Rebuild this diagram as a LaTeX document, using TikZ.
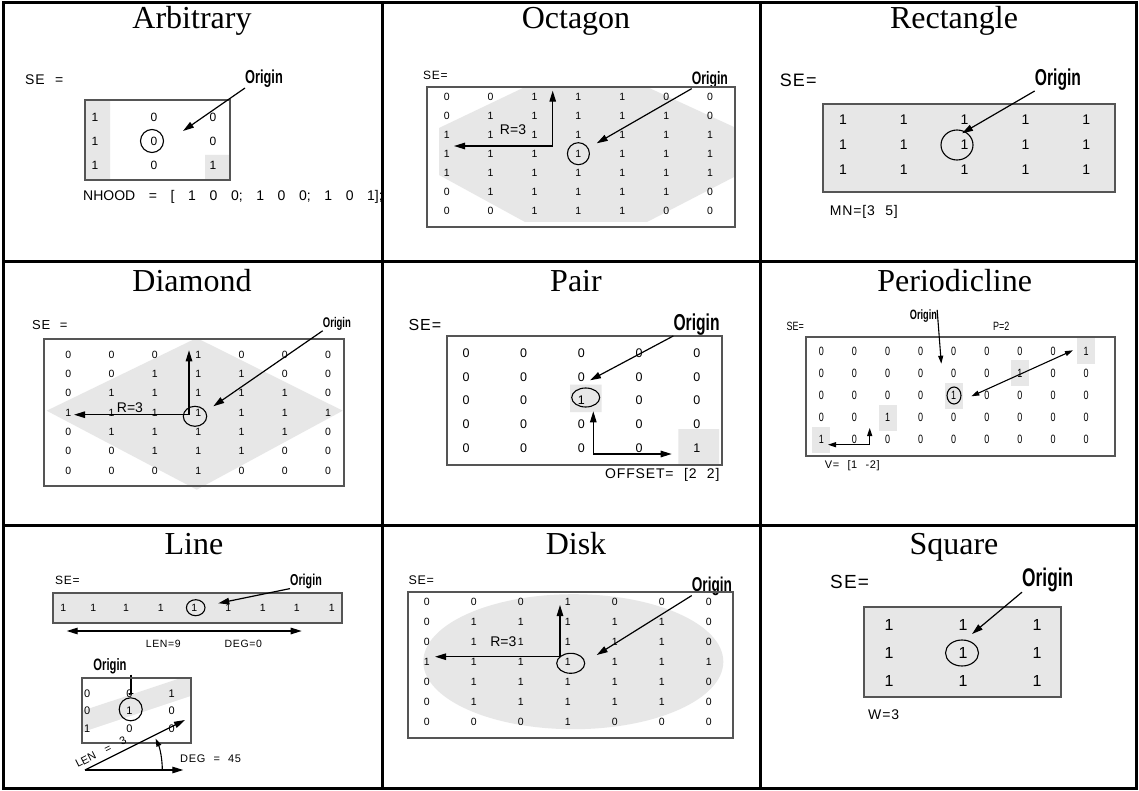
\documentclass[tikz,border=0pt]{standalone}
\usepackage{fontspec}
\setmainfont{Liberation Serif}
\newfontfamily\hsans{Liberation Sans}
\newfontfamily\origfont[FakeStretch=0.68]{Liberation Sans}
\newfontfamily\condfont[FakeStretch=0.75]{Liberation Sans}
\newfontfamily\codefont[LetterSpace=6,WordSpace=2.2]{Liberation Sans}
\newfontfamily\nhfont[WordSpace=3.5]{Liberation Sans}
\usetikzlibrary{arrows.meta}
\definecolor{lgray}{RGB}{231,231,231}
\definecolor{boxline}{RGB}{85,85,85}
\newcommand{\fsz}[1]{\fontsize{#1}{#1}\selectfont}
\tikzset{
  gridline/.style={line width=3pt},
  ttl/.style={anchor=base, inner sep=0pt, font=\fsz{32}},
  sebox/.style={draw=boxline, line width=2pt},
  dig/.style={inner sep=0pt, font=\hsans\fsz{#1}},
  cdig/.style={inner sep=0pt, font=\condfont\fsz{#1}},
  lbl/.style={inner sep=0pt, anchor=west, font=\hsans\fsz{#1}},
  clbl/.style={inner sep=0pt, anchor=west, font=\codefont\fsz{#1}},
  cnlbl/.style={inner sep=0pt, anchor=west, font=\condfont\fsz{#1}},
  orig/.style={inner sep=0pt, anchor=west, font=\origfont\bfseries\fsz{#1}},
  arr/.style={line width=1.2pt, -{Triangle[length=11pt,width=6.5pt]}},
  darr/.style={line width=1.2pt, {Triangle[length=11pt,width=6.5pt]}-{Triangle[length=11pt,width=6.5pt]}},
  sarr/.style={line width=1.1pt, -{Triangle[length=8pt,width=5pt]}},
  sdarr/.style={line width=1.1pt, {Triangle[length=8pt,width=5pt]}-{Triangle[length=8pt,width=5pt]}},
  ring/.style={draw, line width=1.1pt},
}
\begin{document}
\begin{tikzpicture}[x=1pt,y=-1pt]
\fill[white] (0,0) rectangle (1139,791);
\useasboundingbox (0,0) rectangle (1139,791);
% ---------------- grid
\draw[gridline] (3,3) rectangle (1136,788);
\draw[gridline] (382,3) -- (382,788) (760,3) -- (760,788) (3,262) -- (1136,262) (3,525) -- (1136,525);

% ---------------- Arbitrary
\begin{scope}
\node[ttl] (t1) at (192,29) {Arbitrary};
\node[clbl=14] (se1) at (25,80) {SE =};
\node[orig=18.8] (o1) at (245,79) {Origin};
\fill[lgray] (85,100) rectangle (110,180) (205,155) rectangle (230,180);
\draw[sebox] (85,100) rectangle (230,180);
\foreach \rw [count=\i from 0] in {{1,0,0},{1,0,0},{1,0,1}}
  \foreach \v [count=\j from 0] in \rw
    \node[dig=12] (a-\i-\j) at ({95+59*\j},{117+24*\i}) {\v};
\draw[ring] (152,141) circle (11.5);
\coordinate (o1t) at (183,131);
\draw[arr] (o1.south west) -- (o1t);
\node[anchor=west, inner sep=0pt, font=\nhfont\fsz{14}] (nh) at (83,197) {NHOOD = [ 1 0 0; 1 0 0; 1 0 1];};
\end{scope}

% ---------------- Octagon
\begin{scope}[shift={(380,0)}]
\node[ttl] (t2) at (196,29) {Octagon};
\node[clbl=12] (se2) at (43,75) {SE=};
\node[orig=18] (o2) at (311.7,80) {Origin};
\fill[lgray] (145,87) -- (267,87) -- (354,127) -- (354,177) -- (267,222) -- (145,222) -- (59,175) -- (59,128) -- cycle;
\draw[sebox] (46.7,86.7) rectangle (355,227.3);
\foreach \rw [count=\i from 0] in {{0,0,1,1,1,0,0},{0,1,1,1,1,1,0},{1,1,1,1,1,1,1},{1,1,1,1,1,1,1},{1,1,1,1,1,1,1},{0,1,1,1,1,1,0},{0,0,1,1,1,0,0}}
  \foreach \v [count=\j from 0] in \rw
    \node[dig=10.5] (b-\i-\j) at ({66.7+43.9*\j},{96.7+19*\i}) {\v};
\draw[ring] (198.4,153.7) circle (11);
\node[dig=14] (r2) at (133,130) {R=3};
\coordinate (b-c) at (172.7,146);
\coordinate (b-u) at (172.7,90.7);
\coordinate (b-l) at (74,146);
\draw[darr] (b-u) -- (b-c) -- (b-l);
\coordinate (o2t) at (216.7,143.3);
\draw[arr] (o2.south west) -- (o2t);
\end{scope}

% ---------------- Rectangle
\begin{scope}[shift={(758,0)}]
\node[ttl] (t3) at (196,29) {Rectangle};
\node[clbl=18] (se3) at (21.7,80) {SE=};
\node[orig=23] (o3) at (276.7,80) {Origin};
\draw[sebox, fill=lgray] (65,104) rectangle (356.7,191.7);
\foreach \rw [count=\i from 0] in {{1,1,1,1,1},{1,1,1,1,1},{1,1,1,1,1}}
  \foreach \v [count=\j from 0] in \rw
    \node[dig=14] (c-\i-\j) at ({85+60.8*\j},{120+25*\i}) {\v};
\draw[ring] (199,145) ellipse [x radius=16, y radius=15];
\coordinate (o3t) at (204,133.3);
\draw[arr] (o3.south west) -- (o3t);
\node[clbl=14] (mn) at (71.7,212) {MN=[3 5]};
\end{scope}

% ---------------- Diamond
\begin{scope}[shift={(0,263)}]
\node[ttl] (t4) at (192,28) {Diamond};
\node[clbl=13] (se4) at (32,62) {SE =};
\node[orig=14] (o4) at (322.7,61) {Origin};
\fill[lgray] (196.7,75) -- (342.7,147.7) -- (196.7,226.7) -- (46.7,147.7) -- cycle;
\draw[sebox] (44.3,76) rectangle (344.3,222.7);
\foreach \rw [count=\i from 0] in {{0,0,0,1,0,0,0},{0,0,1,1,1,0,0},{0,1,1,1,1,1,0},{1,1,1,1,1,1,1},{0,1,1,1,1,1,0},{0,0,1,1,1,0,0},{0,0,0,1,0,0,0}}
  \foreach \v [count=\j from 0] in \rw
    \node[dig=10.5] (d-\i-\j) at ({68.3+43.3*\j},{91.7+19.3*\i}) {\v};
\draw[ring] (195,153.3) ellipse [x radius=11.7, y radius=10];
\node[dig=14] (r4) at (130,145) {R=3};
\coordinate (d-c) at (189,151.7);
\coordinate (d-u) at (189,87.3);
\coordinate (d-l) at (74,151.7);
\draw[darr] (d-u) -- (d-c) -- (d-l);
\coordinate (o4t) at (213.3,143.3);
\draw[arr] (o4.south west) -- (o4t);
\end{scope}

% ---------------- Pair
\begin{scope}[shift={(380,263)}]
\node[ttl] (t5) at (196,28) {Pair};
\node[clbl=16] (se5) at (28.3,62) {SE=};
\node[orig=23] (o5) at (293.3,62) {Origin};
\fill[lgray] (190,121.7) rectangle (221.7,149) (298.3,166) rectangle (339,201.7);
\draw[sebox] (66.7,73.3) rectangle (341.7,201.7);
\foreach \rw [count=\i from 0] in {{0,0,0,0,0},{0,0,0,0,0},{0,0,1,0,0},{0,0,0,0,0},{0,0,0,0,1}}
  \foreach \v [count=\j from 0] in \rw
    \node[dig=12.5] (e-\i-\j) at ({86+57.7*\j},{90+23.75*\i}) {\v};
\draw[ring] (205.7,134.5) ellipse [x radius=14, y radius=9.5];
\coordinate (e-c) at (213.3,191);
\coordinate (e-u) at (213.3,148.3);
\coordinate (e-r) at (291.7,191);
\draw[darr] (e-u) -- (e-c) -- (e-r);
\coordinate (o5t) at (210,117.3);
\draw[arr] (o5.south west) -- (o5t);
\node[clbl=14] (off) at (225,211.7) {OFFSET= [2 2]};
\end{scope}

% ---------------- Periodicline
\begin{scope}[shift={(758,263)}]
\node[ttl] (t6) at (196.7,28) {Periodicline};
\node[cnlbl=12] (se6) at (28.3,63.3) {SE=};
\node[orig=13.5] (o6) at (151.7,53.3) {Origin};
\node[cnlbl=12] (p6) at (235,63.3) {P=2};
\foreach \i/\j in {0/8,1/6,2/4,3/2,4/0}
  \fill[lgray] ({63.3+33.1*\j-9},{88.3+22.1*\i-13}) rectangle ({63.3+33.1*\j+9},{88.3+22.1*\i+13});
\draw[sebox] (47.7,74) rectangle (356.7,192.7);
\foreach \rw [count=\i from 0] in {{0,0,0,0,0,0,0,0,1},{0,0,0,0,0,0,1,0,0},{0,0,0,0,1,0,0,0,0},{0,0,1,0,0,0,0,0,0},{1,0,0,0,0,0,0,0,0}}
  \foreach \v [count=\j from 0] in \rw
    \node[cdig=12] (f-\i-\j) at ({63.3+33.1*\j},{88.3+22.1*\i}) {\v};
\draw[ring] (196,132.5) ellipse [x radius=7, y radius=8.5];
\coordinate (f-a) at (213.3,133.3);
\coordinate (f-b) at (315,87.3);
\draw[sdarr] (f-a) -- (f-b);
\coordinate (o6t) at (183.3,100.7);
\draw[sarr] (o6.north east) -- (o6t);
\coordinate (f-c) at (111.7,181.7);
\coordinate (f-u) at (111.7,165);
\coordinate (f-l) at (70,181.7);
\draw[sdarr] (f-u) -- (f-c) -- (f-l);
\node[clbl=11] (v6) at (66.7,202.7) {V= [1 -2]};
\end{scope}

% ---------------- Line
\begin{scope}[shift={(0,525)}]
\node[ttl] (t7) at (194,29) {Line};
\node[clbl=12] (se7) at (55,55) {SE=};
\node[orig=15.8] (o7) at (290,56) {Origin};
\draw[sebox, fill=lgray] (53.3,68.3) rectangle (341.7,98.3);
\foreach \x [count=\j] in {63.3,93.3,126,160.7,194.3,228.3,262.7,296.7,331.7}
  \node[dig=10.5] (g-\j) at (\x,82.7) {1};
\draw[ring] (195.7,82.7) ellipse [x radius=9.3, y radius=8];
\coordinate (o7t) at (218.3,78.3);
\draw[arr] (o7.south west) -- (o7t);
\coordinate (len-l) at (66.7,106);
\coordinate (len-r) at (301.7,106);
\draw[darr] (len-l) -- (len-r);
\node[inner sep=0pt, font=\codefont\fsz{10.5}] (len9) at (163.3,119) {LEN=9};
\node[inner sep=0pt, font=\codefont\fsz{10.5}] (deg0) at (243.3,119) {DEG=0};
\node[orig=16.5, anchor=center] (o7b) at (110,141.7) {Origin};
\coordinate (o7bt) at (131,176);
\draw[sarr] (o7b.south east -| o7bt) -- (o7bt);
\begin{scope}
\clip (81.7,152.7) rectangle (190.7,218.3);
\fill[lgray] (81.7,186) -- (190.7,149.7) -- (190.7,171) -- (81.7,207.3) -- cycle;
\end{scope}
\draw[sebox] (81.7,152.7) rectangle (190.7,218.3);
\foreach \rw [count=\i from 0] in {{0,0,1},{0,1,0},{1,0,0}}
  \foreach \v [count=\j from 0] in \rw
    \node[dig=11] (h-\i-\j) at ({87.3+42.2*\j},{168.3+17.5*\i}) {\v};
\draw[ring] (130.7,184.3) circle (11.5);
\coordinate (lo) at (85,245);
\coordinate (le) at (185,195);
\coordinate (he) at (183.3,245);
\draw[arr] (lo) -- (le);
\draw[arr] (lo) -- (he);
\draw[sarr] (162.3,245) arc[start angle=0, end angle=-24, radius=77.3];
\node[rotate=26.6, inner sep=0pt, font=\hsans\fsz{11}] (len3) at (101,227) {LEN = 3};
\node[clbl=11] (deg45) at (180,233.3) {DEG = 45};
\end{scope}

% ---------------- Disk
\begin{scope}[shift={(380,525)}]
\node[ttl] (t8) at (196,29) {Disk};
\node[clbl=12.5] (se8) at (28.3,55) {SE=};
\node[orig=20] (o8) at (311.7,61) {Origin};
\fill[lgray] (193.3,136.7) ellipse [x radius=150, y radius=67.5];
\draw[sebox] (28.3,66.7) rectangle (353.3,213.3);
\foreach \rw [count=\i from 0] in {{0,0,0,1,0,0,0},{0,1,1,1,1,1,0},{0,1,1,1,1,1,0},{1,1,1,1,1,1,1},{0,1,1,1,1,1,0},{0,1,1,1,1,1,0},{0,0,0,1,0,0,0}}
  \foreach \v [count=\j from 0] in \rw
    \node[dig=10.5] (k-\i-\j) at ({46.7+47*\j},{77.3+20*\i}) {\v};
\draw[ring] (190.7,138.3) ellipse [x radius=14, y radius=10];
\node[dig=14] (r8) at (123.3,116.7) {R=3};
\coordinate (k-c) at (180,131.7);
\coordinate (k-u) at (180,80);
\coordinate (k-l) at (55,131.7);
\draw[darr] (k-u) -- (k-c) -- (k-l);
\coordinate (o8t) at (216.7,130);
\draw[arr] (o8.south west) -- (o8t);
\end{scope}

% ---------------- Square
\begin{scope}[shift={(758,525)}]
\node[ttl] (t9) at (196,29) {Square};
\node[clbl=19] (se9) at (72,57) {SE=};
\node[orig=25.5] (o9) at (264,55) {Origin};
\draw[sebox, fill=lgray] (106,82) rectangle (303,172);
\foreach \rw [count=\i from 0] in {{1,1,1},{1,1,1},{1,1,1}}
  \foreach \v [count=\j from 0] in \rw
    \node[dig=16] (m-\i-\j) at ({131+74*\j},{100+28*\i}) {\v};
\draw[ring] (204,128) ellipse [x radius=16.5, y radius=13];
\coordinate (o9t) at (214,109);
\draw[arr] (o9.south west) -- (o9t);
\node[clbl=14] (w9) at (110,190) {W=3};
\end{scope}
\end{tikzpicture}
\end{document}
